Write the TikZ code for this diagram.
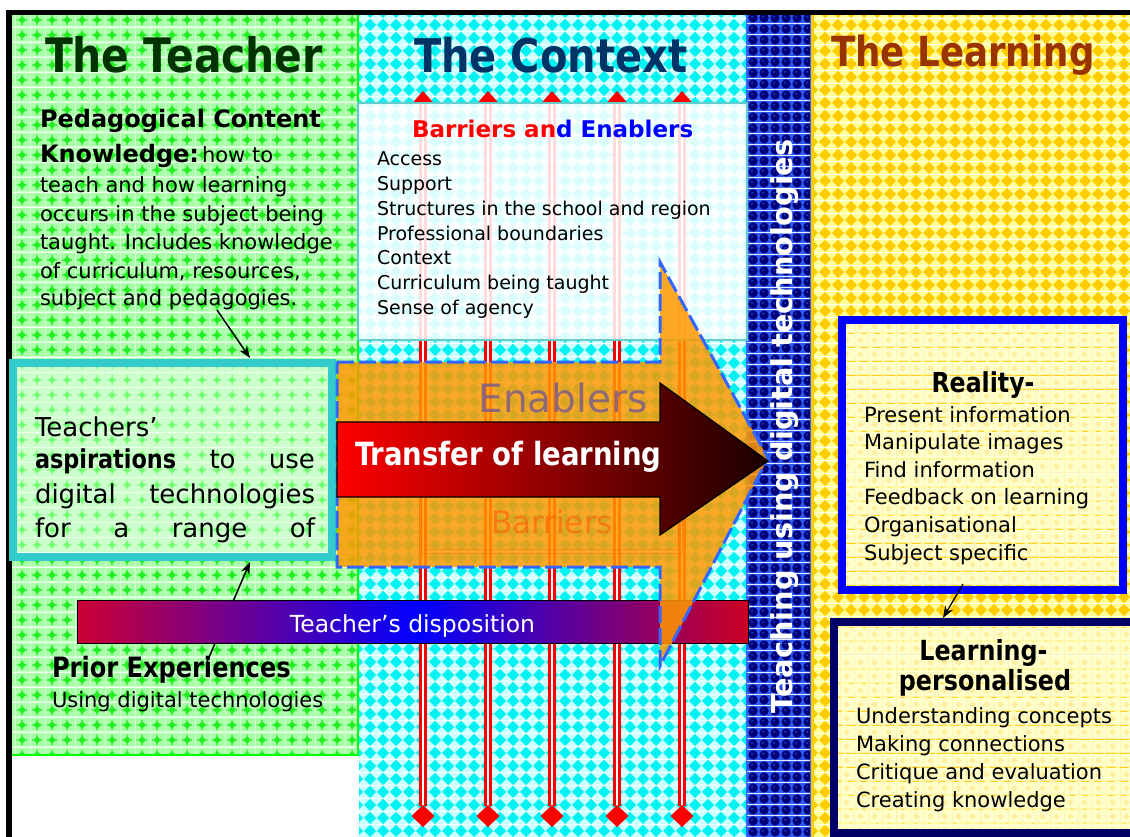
\documentclass[tikz,border=0pt]{standalone}
\usepackage{fontspec}
\setmainfont{DejaVu Sans}
\newfontfamily\narrowfont{DejaVu Sans}[FakeStretch=0.86]
\usetikzlibrary{patterns,arrows.meta}

\definecolor{gbg}{HTML}{A8FFA8}
\definecolor{gfg}{HTML}{22EE22}
\definecolor{ggrid}{HTML}{D0FFD0}
\definecolor{lgbg}{HTML}{CCFFCC}
\definecolor{lgfg}{HTML}{70FF70}
\definecolor{cbg}{HTML}{CCFFFF}
\definecolor{cfg}{HTML}{00F2F2}
\definecolor{ybg}{HTML}{FFFF99}
\definecolor{yfg}{HTML}{FFCC00}
\definecolor{nbg}{HTML}{2F58F0}
\definecolor{nfg}{HTML}{000078}
\definecolor{nhi}{HTML}{1530A8}
\definecolor{lybg}{HTML}{FFFFCC}
\definecolor{lyfg}{HTML}{FFEEA0}
\definecolor{tgreen}{HTML}{003300}
\definecolor{tnavy}{HTML}{003366}
\definecolor{tbrown}{HTML}{993300}
\definecolor{aspedge}{HTML}{33CCCC}
\definecolor{boxedge}{HTML}{66CCCC}
\definecolor{realedge}{HTML}{0000FF}
\definecolor{learnedge}{HTML}{000066}
\definecolor{dred}{HTML}{CC0033}
\definecolor{dred2}{HTML}{CC0022}
\definecolor{dblue}{HTML}{0000FF}
\definecolor{tred}{HTML}{FF0000}
\definecolor{tdark}{HTML}{1A0000}
\definecolor{orangefill}{HTML}{FF9900}
\definecolor{dashblue}{HTML}{3366FF}
\definecolor{enab}{HTML}{7E5E86}
\definecolor{barr}{HTML}{FF5500}
\definecolor{greenedge}{HTML}{00FF00}

% cyan diamond checker
\pgfdeclarepatterninherentlycolored{cyandiam}{\pgfpointorigin}{\pgfpoint{13pt}{13pt}}{\pgfpoint{13pt}{13pt}}{%
\pgfsetfillcolor{cbg}\pgfpathrectangle{\pgfpointorigin}{\pgfpoint{13pt}{13pt}}\pgfusepath{fill}%
\pgfsetfillcolor{cfg}\pgfpathmoveto{\pgfpoint{6.5pt}{0pt}}\pgfpathlineto{\pgfpoint{13pt}{6.5pt}}%
\pgfpathlineto{\pgfpoint{6.5pt}{13pt}}\pgfpathlineto{\pgfpoint{0pt}{6.5pt}}\pgfpathclose\pgfusepath{fill}}
% yellow diamond checker
\pgfdeclarepatterninherentlycolored{yeldiam}{\pgfpointorigin}{\pgfpoint{13pt}{13pt}}{\pgfpoint{13pt}{13pt}}{%
\pgfsetfillcolor{ybg}\pgfpathrectangle{\pgfpointorigin}{\pgfpoint{13pt}{13pt}}\pgfusepath{fill}%
\pgfsetfillcolor{yfg}\pgfpathmoveto{\pgfpoint{6.5pt}{0pt}}\pgfpathlineto{\pgfpoint{13pt}{6.5pt}}%
\pgfpathlineto{\pgfpoint{6.5pt}{13pt}}\pgfpathlineto{\pgfpoint{0pt}{6.5pt}}\pgfpathclose\pgfusepath{fill}}
% green dotted
\pgfdeclarepatterninherentlycolored{greendots}{\pgfpointorigin}{\pgfpoint{15pt}{15pt}}{\pgfpoint{15pt}{15pt}}{%
\pgfsetfillcolor{gbg}\pgfpathrectangle{\pgfpointorigin}{\pgfpoint{15pt}{15pt}}\pgfusepath{fill}%
\pgfsetfillcolor{ggrid}\pgfpathrectangle{\pgfpointorigin}{\pgfpoint{15pt}{0.8pt}}\pgfpathrectangle{\pgfpointorigin}{\pgfpoint{0.8pt}{15pt}}\pgfusepath{fill}%
\pgfsetfillcolor{gfg}\pgfpathmoveto{\pgfpoint{7.5pt}{3.5pt}}\pgfpathlineto{\pgfpoint{11.5pt}{7.5pt}}%
\pgfpathlineto{\pgfpoint{7.5pt}{11.5pt}}\pgfpathlineto{\pgfpoint{3.5pt}{7.5pt}}\pgfpathclose%
\pgfpathrectangle{\pgfpoint{6.9pt}{2pt}}{\pgfpoint{1.2pt}{11pt}}\pgfpathrectangle{\pgfpoint{2pt}{6.9pt}}{\pgfpoint{11pt}{1.2pt}}\pgfusepath{fill}}
% light green dotted
\pgfdeclarepatterninherentlycolored{lgreendots}{\pgfpointorigin}{\pgfpoint{15pt}{15pt}}{\pgfpoint{15pt}{15pt}}{%
\pgfsetfillcolor{lgbg}\pgfpathrectangle{\pgfpointorigin}{\pgfpoint{15pt}{15pt}}\pgfusepath{fill}%
\pgfsetfillcolor{lgfg}\pgfpathmoveto{\pgfpoint{7.5pt}{4pt}}\pgfpathlineto{\pgfpoint{11pt}{7.5pt}}%
\pgfpathlineto{\pgfpoint{7.5pt}{11pt}}\pgfpathlineto{\pgfpoint{4pt}{7.5pt}}\pgfpathclose%
\pgfpathrectangle{\pgfpoint{7pt}{2.5pt}}{\pgfpoint{1pt}{10pt}}\pgfpathrectangle{\pgfpoint{2.5pt}{7pt}}{\pgfpoint{10pt}{1pt}}\pgfusepath{fill}}
% navy balls
\pgfdeclarepatterninherentlycolored{navyballs}{\pgfpointorigin}{\pgfpoint{11pt}{11pt}}{\pgfpoint{11pt}{11pt}}{%
\pgfsetfillcolor{nbg}\pgfpathrectangle{\pgfpointorigin}{\pgfpoint{11pt}{11pt}}\pgfusepath{fill}%
\pgfsetfillcolor{nfg}\pgfpathcircle{\pgfpoint{5.5pt}{5.5pt}}{5pt}\pgfusepath{fill}%
\pgfsetfillcolor{nhi}\pgfpathcircle{\pgfpoint{4.2pt}{6.8pt}}{1.5pt}\pgfusepath{fill}}
% light yellow texture
\pgfdeclarepatterninherentlycolored{lyeldots}{\pgfpointorigin}{\pgfpoint{14pt}{14pt}}{\pgfpoint{14pt}{14pt}}{%
\pgfsetfillcolor{lybg}\pgfpathrectangle{\pgfpointorigin}{\pgfpoint{14pt}{14pt}}\pgfusepath{fill}%
\pgfsetfillcolor{lyfg}\pgfpathmoveto{\pgfpoint{7pt}{3.5pt}}\pgfpathlineto{\pgfpoint{10.5pt}{7pt}}%
\pgfpathlineto{\pgfpoint{7pt}{10.5pt}}\pgfpathlineto{\pgfpoint{3.5pt}{7pt}}\pgfpathclose%
\pgfpathrectangle{\pgfpointorigin}{\pgfpoint{14pt}{0.8pt}}\pgfpathrectangle{\pgfpointorigin}{\pgfpoint{0.8pt}{14pt}}\pgfusepath{fill}}

\tikzset{
  txt/.style={inner sep=0pt,outer sep=0pt,anchor=base west},
  ctxt/.style={inner sep=0pt,outer sep=0pt,anchor=base},
  fs19/.style={font=\fontsize{19}{24}\selectfont},
  fs21/.style={font=\fontsize{21}{26}\selectfont},
  fs26/.style={font=\fontsize{26}{31}\selectfont},
  headfont/.style={font=\narrowfont\bfseries\fontsize{#1}{#1}\selectfont},
  redline/.style={draw=red,line width=3pt,double=white,double distance=2.3pt},
  conn/.style={draw=black,line width=1.5pt,-{Stealth[length=12pt,width=9pt]}},
  orangearrow/.style={fill=orangefill,fill opacity=0.85,draw=dashblue,draw opacity=1,line width=3pt,dash pattern=on 17pt off 5pt},
  transferarrow/.style={draw=black,line width=1.2pt,left color=tred,right color=tdark},
}

\begin{document}
\begin{tikzpicture}[x=1pt,y=-1pt]
\useasboundingbox (0,0) rectangle (1130,837);
\fill[white] (0,0) rectangle (1130,837);

% ---------- panels ----------
\path[pattern=greendots] (12,15) rectangle (358,755);
\draw[greenedge,line width=2pt] (358,15) -- (358,755) -- (12,755);
\path[pattern=cyandiam] (359,15) rectangle (746,837);
\path[pattern=navyballs] (746,15) rectangle (811,837);
\draw[dashblue,line width=1pt] (746.5,15) -- (746.5,837) (810.5,15) -- (810.5,837);
\path[pattern=yeldiam] (811,15) rectangle (1130,837);
\draw[yfg,line width=3pt] (812.5,15) -- (812.5,837);

% outer frame
\draw[line width=5pt] (6,12.5) -- (1130,12.5);
\draw[line width=6pt] (9,10) -- (9,837);

% ---------- red double lines ----------
\foreach \i/\x in {1/423,2/488,3/552,4/617,5/682}{
  \coordinate (top\i) at (\x,103);
  \coordinate (bot\i) at (\x,806);
  \draw[redline] (top\i) -- (bot\i);
  \fill[red] (\x,91) -- (\x+10.5,103) -- (\x-10.5,103) -- cycle;
  \fill[red] (\x,805) -- (\x+11.5,816) -- (\x,827) -- (\x-11.5,816) -- cycle;
}

% ---------- barriers box ----------
\fill[white,fill opacity=0.86] (358,103) rectangle (747,340);
\draw[boxedge,line width=1.5pt] (358,103) rectangle (747,340);
\node[txt,font=\bfseries\fontsize{23}{28}\selectfont] (bae) at (412,138)
  {\textcolor{red}{Barriers an}\textcolor{blue}{d Enablers}};
\foreach \itm [count=\k from 0] in {Access,Support,Structures in the school and region,Professional boundaries,Context,Curriculum being taught,Sense of agency}
  \node[txt,fs19] (be\k) at (377,{166+24.7*\k}) {\itm};

% ---------- titles ----------
\node[txt,headfont=47.5,text=tgreen] (ttlteacher) at (45,73) {The Teacher};
\node[txt,headfont=46.5,text=tnavy] (ttlcontext) at (414,73) {The Context};
\node[txt,headfont=41.5,text=tbrown] (ttllearning) at (831,67) {The Learning};

% ---------- PCK ----------
\node[txt,font=\bfseries\fontsize{24}{28}\selectfont] (pck0) at (40,128) {Pedagogical Content};
\node[txt,fs21] (pck1) at (40,163) {{\bfseries\fontsize{24}{28}\selectfont Knowledge:}\hspace{3pt}how to};
\foreach \itm/\yy [count=\k from 2] in {teach and how learning/193,occurs in the subject being/222,taught. Includes knowledge/250,{of curriculum, resources,}/278,subject and pedagogies./305}
  \node[txt,fs21] (pck\k) at (40,\yy) {\itm};
\coordinate (pckfoot) at (217,310);
\coordinate (asptop) at (250,358);
\draw[conn] (pckfoot) -- (asptop);

% ---------- aspirations box ----------
\draw[aspedge,line width=8pt,pattern=lgreendots] (13,363) rectangle (332,557);
\node[txt,fs26] (asp1) at (35,436) {Teachers’};
\node[txt,fs26] (asp2) at (35,468) {\hbox to 280pt{{\narrowfont\bfseries aspirations}\hfill to\hfill use}};
\node[txt,fs26] (asp3) at (35,503) {\hbox to 280pt{digital\hfill technologies}};
\node[txt,fs26] (asp4) at (35,537) {\hbox to 280pt{for\hfill a\hfill range\hfill of}};

% ---------- prior experiences ----------
\node[txt,headfont=28] (prior) at (52,677) {Prior Experiences};
\node[txt,fs21] (priorsub) at (52,707) {Using digital technologies};
\coordinate (priortop) at (207,662);
\coordinate (aspbot) at (250,562);
\draw[conn] (priortop) -- (aspbot);

% ---------- disposition bar ----------
\fill[left color=dred,right color=dblue] (77,600) rectangle (418,643);
\fill[left color=dblue,right color=dred2] (417,600) rectangle (748,643);
\draw[line width=1pt] (77,600) rectangle (748,643);
\node[ctxt,font=\fontsize{23.5}{28}\selectfont,text=white] (disp) at (412.5,632) {Teacher’s disposition};

% ---------- orange arrow ----------
\draw[orangearrow] (337,362) -- (660,362) -- (660,262) -- (768,458) -- (660,666) -- (660,567) -- (337,567) -- cycle;
\node[ctxt,font=\fontsize{39}{44}\selectfont,text=enab,text opacity=0.85] (enablers) at (563,412) {Enablers};
\node[ctxt,font=\fontsize{31}{36}\selectfont,text=barr,text opacity=0.55] (barriers) at (552,533) {Barriers};
\draw[barr,line width=1pt,draw opacity=0.35] (421,470) rectangle (682,553) (425,470) rectangle (678,549);

% ---------- transfer arrow ----------
\draw[transferarrow] (337,422) -- (660,422) -- (660,383) -- (768,461) -- (660,535) -- (660,497) -- (337,497) -- cycle;
\node[txt,headfont=32,text=white] (transfer) at (355,465) {Transfer of learning};

% ---------- band text ----------
\node[ctxt,rotate=90,font=\bfseries\fontsize{28.8}{32}\selectfont,text=white] (band) at (792,426.5) {Teaching using digital technologies};

% ---------- reality box ----------
\draw[realedge,line width=8pt,pattern=lyeldots] (842,320) rectangle (1123,590);
\node[ctxt,headfont=27.5] (reality) at (983,392) {Reality-};
\foreach \itm [count=\k from 0] in {Present information,Manipulate images,Find information,Feedback on learning,Organisational,Subject specific}
  \node[txt,fs21] (real\k) at (864,{422+27.6*\k}) {\itm};

% ---------- learning box ----------
\draw[learnedge,line width=8pt,pattern=lyeldots] (834,622) rectangle (1140,833);
\node[ctxt,headfont=27.7] (learn1) at (983.5,660) {Learning-};
\node[ctxt,headfont=27.7] (learn2) at (985,690) {personalised};
\foreach \itm [count=\k from 0] in {Understanding concepts,Making connections,Critique and evaluation,Creating knowledge}
  \node[txt,fs21] (lp\k) at (856,{723+28.3*\k}) {\itm};
\coordinate (realfoot) at (963,584);
\coordinate (learntop) at (943,618);
\draw[conn,line width=1.3pt] (realfoot) -- (learntop);
\end{tikzpicture}
\end{document}
